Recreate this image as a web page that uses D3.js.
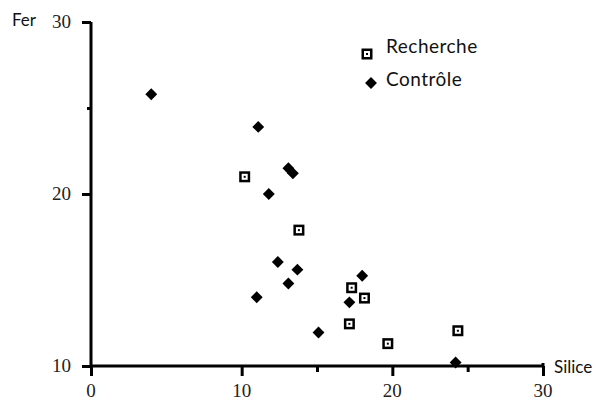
<!DOCTYPE html>
<html>
<head>
<meta charset="utf-8">
<script src="https://cdn.jsdelivr.net/npm/d3@7"></script>
<style>
  body { margin: 0; background: #fff; }
  .tick-label { font-family: "Liberation Serif", serif; font-size: 19px; fill: #222; }
  .axis-title { font-family: Lato, "Open Sans", sans-serif; font-size: 17px; fill: #111; }
  .legend-text { font-family: Lato, "Open Sans", sans-serif; font-size: 19px; letter-spacing: 0.5px; fill: #111; }
</style>
</head>
<body>
<svg id="chart" width="596" height="400"></svg>
<script>
// Recherche (open squares) : silice, fer
const rechercheSilice = [10.2, 13.8, 17.3, 18.15, 17.15, 19.7, 24.35];
const rechercheFer    = [21.0, 17.9, 14.55, 13.95, 12.45, 11.3, 12.05];

// Contrôle (diamonds) : silice, fer
const controleSilice = [4.0, 11.1, 13.1, 13.4, 11.8, 12.4, 13.7, 13.1, 11.0, 18.0, 17.15, 15.1, 24.2];
const controleFer    = [25.8, 23.9, 21.5, 21.2, 20.0, 16.05, 15.6, 14.8, 14.0, 15.25, 13.7, 11.95, 10.2];

const xTicks = [0, 10, 20, 30],
      yTicks = [10, 20, 30],
      xMinor = [15, 25],
      yMinor = [25];

const svg = d3.select("#chart");

const x = d3.scaleLinear().domain([0, 30]).range([91, 543]),
      y = d3.scaleLinear().domain([10, 30]).range([366, 22]);

// Y axis
let yAxis = svg.append("g").attr("transform", "translate(" + x(0) + ",0)");
yAxis.call(d3.axisLeft(y).tickValues(yTicks).tickSize(9).tickFormat(""));
yAxis.append("g").call(d3.axisLeft(y).tickValues(yMinor).tickSize(4).tickFormat(""));
yAxis.selectAll(".domain").remove();
yAxis.selectAll("line").attr("stroke", "#000").attr("stroke-width", 3);
yAxis.append("line")
  .attr("y1", y(30)).attr("y2", y(10))
  .attr("stroke", "#000").attr("stroke-width", 3);

// X axis
let xAxis = svg.append("g").attr("transform", "translate(0," + y(10) + ")");
xAxis.call(d3.axisBottom(x).tickValues(xTicks).tickSize(10).tickFormat(""));
xAxis.append("g").call(d3.axisBottom(x).tickValues(xMinor).tickSize(6).tickFormat(""));
xAxis.selectAll(".domain").remove();
xAxis.selectAll("line").attr("stroke", "#000").attr("stroke-width", 3);
xAxis.append("line")
  .attr("x1", x(0)).attr("x2", x(30))
  .attr("stroke", "#000").attr("stroke-width", 3);
// end tick at 30 sticks up a little too
xAxis.append("line")
  .attr("x1", x(30)).attr("x2", x(30)).attr("y1", -3).attr("y2", 0)
  .attr("stroke", "#000").attr("stroke-width", 3);

// Tick labels
svg.selectAll(".ylab").data(yTicks).enter().append("text")
  .attr("class", "tick-label")
  .attr("x", 71).attr("y", d => y(d) + 6)
  .attr("text-anchor", "end")
  .text(d => d);

svg.selectAll(".xlab").data(xTicks).enter().append("text")
  .attr("class", "tick-label")
  .attr("x", d => x(d)).attr("y", 397)
  .attr("text-anchor", "middle")
  .text(d => d);

// Axis titles
svg.append("text").attr("class", "axis-title").attr("x", 12).attr("y", 26).text("Fer");
svg.append("text").attr("class", "axis-title").attr("x", 554).attr("y", 373).text("Silice");

// Markers
function squareMark(g) {
  g.append("rect").attr("x", -5.5).attr("y", -5.5).attr("width", 11).attr("height", 11).attr("fill", "#000");
  g.append("rect").attr("x", -3).attr("y", -3).attr("width", 6).attr("height", 6).attr("fill", "#fff");
  g.append("rect").attr("x", -1).attr("y", -1).attr("width", 2).attr("height", 2).attr("fill", "#000");
}

const diamond = d3.symbol().type(d3.symbolDiamond2).size(90);

let recherche = rechercheSilice.map((s, i) => ({ s: s, f: rechercheFer[i] })),
    controle  = controleSilice.map((s, i) => ({ s: s, f: controleFer[i] }));

svg.selectAll(".ctrl").data(controle).enter().append("path")
  .attr("class", "ctrl")
  .attr("d", diamond)
  .attr("fill", "#000")
  .attr("transform", d => "translate(" + x(d.s) + "," + y(d.f) + ")");

svg.selectAll(".rech").data(recherche).enter().append("g")
  .attr("class", "rech")
  .attr("transform", d => "translate(" + x(d.s) + "," + y(d.f) + ")")
  .each(function () { squareMark(d3.select(this)); });

// Legend
let leg1 = svg.append("g").attr("transform", "translate(367,54)");
squareMark(leg1);
svg.append("text").attr("class", "legend-text").attr("x", 386).attr("y", 53).text("Recherche");

svg.append("path").attr("d", diamond).attr("fill", "#000").attr("transform", "translate(371,83)");
svg.append("text").attr("class", "legend-text").attr("x", 386).attr("y", 86).text("Contrôle");
</script>
</body>
</html>
